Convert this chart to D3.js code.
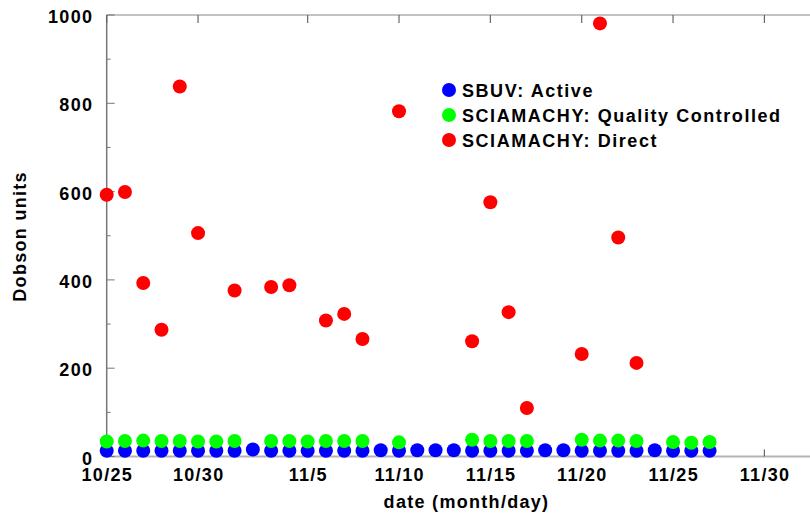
<!DOCTYPE html>
<html>
<head>
<meta charset="utf-8">
<script src="https://cdn.jsdelivr.net/npm/d3@7"></script>
<style>
  body { margin: 0; background: #fff; }
  svg text { font-family: "Liberation Sans", Arial, sans-serif; font-weight: bold; fill: #000; letter-spacing: 1.3px; }
</style>
</head>
<body>
<div id="chart"></div>
<script>
// days shown, one point per day
const dates = [
  "10/25", "10/26", "10/27", "10/28", "10/29", "10/30", "10/31",
  "11/1", "11/2", "11/3", "11/4", "11/5", "11/6", "11/7", "11/8", "11/9",
  "11/10", "11/11", "11/12", "11/13", "11/14", "11/15", "11/16", "11/17",
  "11/18", "11/19", "11/20", "11/21", "11/22", "11/23", "11/24", "11/25",
  "11/26", "11/27"
];
const sbuvActive = [
  13, 13, 13, 13, 13, 13, 13, 13, 16, 13, 13, 13, 13, 13, 13, 14,
  13, 14, 14, 14, 13, 13, 13, 13, 14, 14, 13, 13, 13, 13, 14, 13,
  13, 13
];
const sciaQuality = [
  34, 35, 36, 35, 35, 34, 34, 35, null, 35, 35, 34, 35, 35, 35, null,
  32, null, null, null, 38, 35, 35, 35, null, null, 38, 36, 36, 35, null, 33,
  31, 33
];
const sciaDirect = [
  593, 599, 393, 287, 838, 506, null, 376, null, 384, 388, null, 308, 323, 266, null,
  782, null, null, null, 261, 576, 327, 110, null, null, 232, 981, 496, 212, null, null,
  null, null
];
const xTickLabels = ["10/25", "10/30", "11/5", "11/10", "11/15", "11/20", "11/25", "11/30"];
const yTicks = [0, 200, 400, 600, 800, 1000];
const yMinorTicks = [100, 300, 500, 700, 900];

const series = [
  { name: "SBUV: Active", color: "#0000ff", values: sbuvActive },
  { name: "SCIAMACHY: Quality Controlled", color: "#00ff00", values: sciaQuality },
  { name: "SCIAMACHY: Direct", color: "#ff0000", values: sciaDirect }
];

const width = 810, height = 518;
const plotLeft = 106.7, plotTop = 15, plotBottom = 456.5, plotRight = 825;
const spacing = 1.3; // letter-spacing, trailing gap compensated for anchored text
const year = 2004;
const parseDay = s => d3.timeParse("%Y/%m/%d")(year + "/" + s);

const x = d3.scaleTime()
  .domain([parseDay("10/25"), parseDay("11/30")])
  .range([plotLeft, 764.4]);
const y = d3.scaleLinear().domain([0, 1000]).range([plotBottom, plotTop]);

const svg = d3.select("#chart").append("svg")
  .attr("width", width)
  .attr("height", height);

// frame
svg.append("line").attr("x1", plotLeft).attr("x2", plotRight).attr("y1", plotTop).attr("y2", plotTop)
  .style("stroke", "#888").style("stroke-width", 1.2);
svg.append("line").attr("x1", plotLeft).attr("x2", plotRight).attr("y1", plotBottom).attr("y2", plotBottom)
  .style("stroke", "#b4b4b4").style("stroke-width", 2);
svg.append("line").attr("x1", plotLeft).attr("x2", plotLeft).attr("y1", plotTop).attr("y2", plotBottom)
  .style("stroke", "#777").style("stroke-width", 1.5);

// y ticks
svg.selectAll(".ytick").data(yTicks).enter().append("line")
  .attr("x1", plotLeft).attr("x2", plotLeft + 8)
  .attr("y1", d => y(d)).attr("y2", d => y(d))
  .style("stroke", "#777").style("stroke-width", 1);
svg.selectAll(".yminor").data(yMinorTicks).enter().append("line")
  .attr("x1", plotLeft).attr("x2", plotLeft + 4)
  .attr("y1", d => y(d)).attr("y2", d => y(d))
  .style("stroke", "#777").style("stroke-width", 1);
svg.selectAll(".ylabel").data(yTicks).enter().append("text")
  .attr("x", 92 + spacing)
  .attr("y", d => y(d) + 8)
  .style("font-size", "18px")
  .style("text-anchor", "end")
  .text(d => d);

// x ticks, top and bottom
const xTickDates = xTickLabels.map(parseDay);
svg.selectAll(".xtickTop").data(xTickDates).enter().append("line")
  .attr("x1", d => x(d)).attr("x2", d => x(d))
  .attr("y1", plotTop).attr("y2", plotTop + 8)
  .style("stroke", "#666").style("stroke-width", 1.2);
svg.selectAll(".xtickBot").data(xTickDates).enter().append("line")
  .attr("x1", d => x(d)).attr("x2", d => x(d))
  .attr("y1", plotBottom).attr("y2", plotBottom - 7)
  .style("stroke", "#666").style("stroke-width", 1.2);
svg.selectAll(".xlabel").data(xTickDates).enter().append("text")
  .attr("x", d => x(d) + spacing / 2)
  .attr("y", 481)
  .style("font-size", "18px")
  .style("text-anchor", "middle")
  .text(d3.timeFormat("%-m/%-d"));

// axis titles
svg.append("text")
  .attr("x", (plotLeft + plotRight) / 2 + spacing / 2)
  .attr("y", 508)
  .style("font-size", "18px")
  .style("text-anchor", "middle")
  .text("date (month/day)");
svg.append("text")
  .attr("transform", `translate(25.5, ${(plotTop + plotBottom) / 2 + spacing / 2}) rotate(-90)`)
  .style("font-size", "18px")
  .style("text-anchor", "middle")
  .text("Dobson units");

// points
series.forEach(s => {
  const pts = dates.map((d, i) => ({ date: parseDay(d), value: s.values[i] }))
    .filter(p => p.value !== null);
  svg.append("g").selectAll("circle").data(pts).enter().append("circle")
    .attr("cx", p => x(p.date))
    .attr("cy", p => y(p.value))
    .attr("r", 7)
    .style("fill", s.color);
});

// legend
const legend = svg.append("g").attr("transform", "translate(449, 90)");
series.forEach((s, i) => {
  legend.append("circle").attr("cx", 0).attr("cy", i * 25).attr("r", 7).style("fill", s.color);
  legend.append("text")
    .attr("x", 13).attr("y", i * 25 + 6.7)
    .style("font-size", "18px")
    .style("letter-spacing", "1.55px")
    .text(s.name);
});
</script>
</body>
</html>
